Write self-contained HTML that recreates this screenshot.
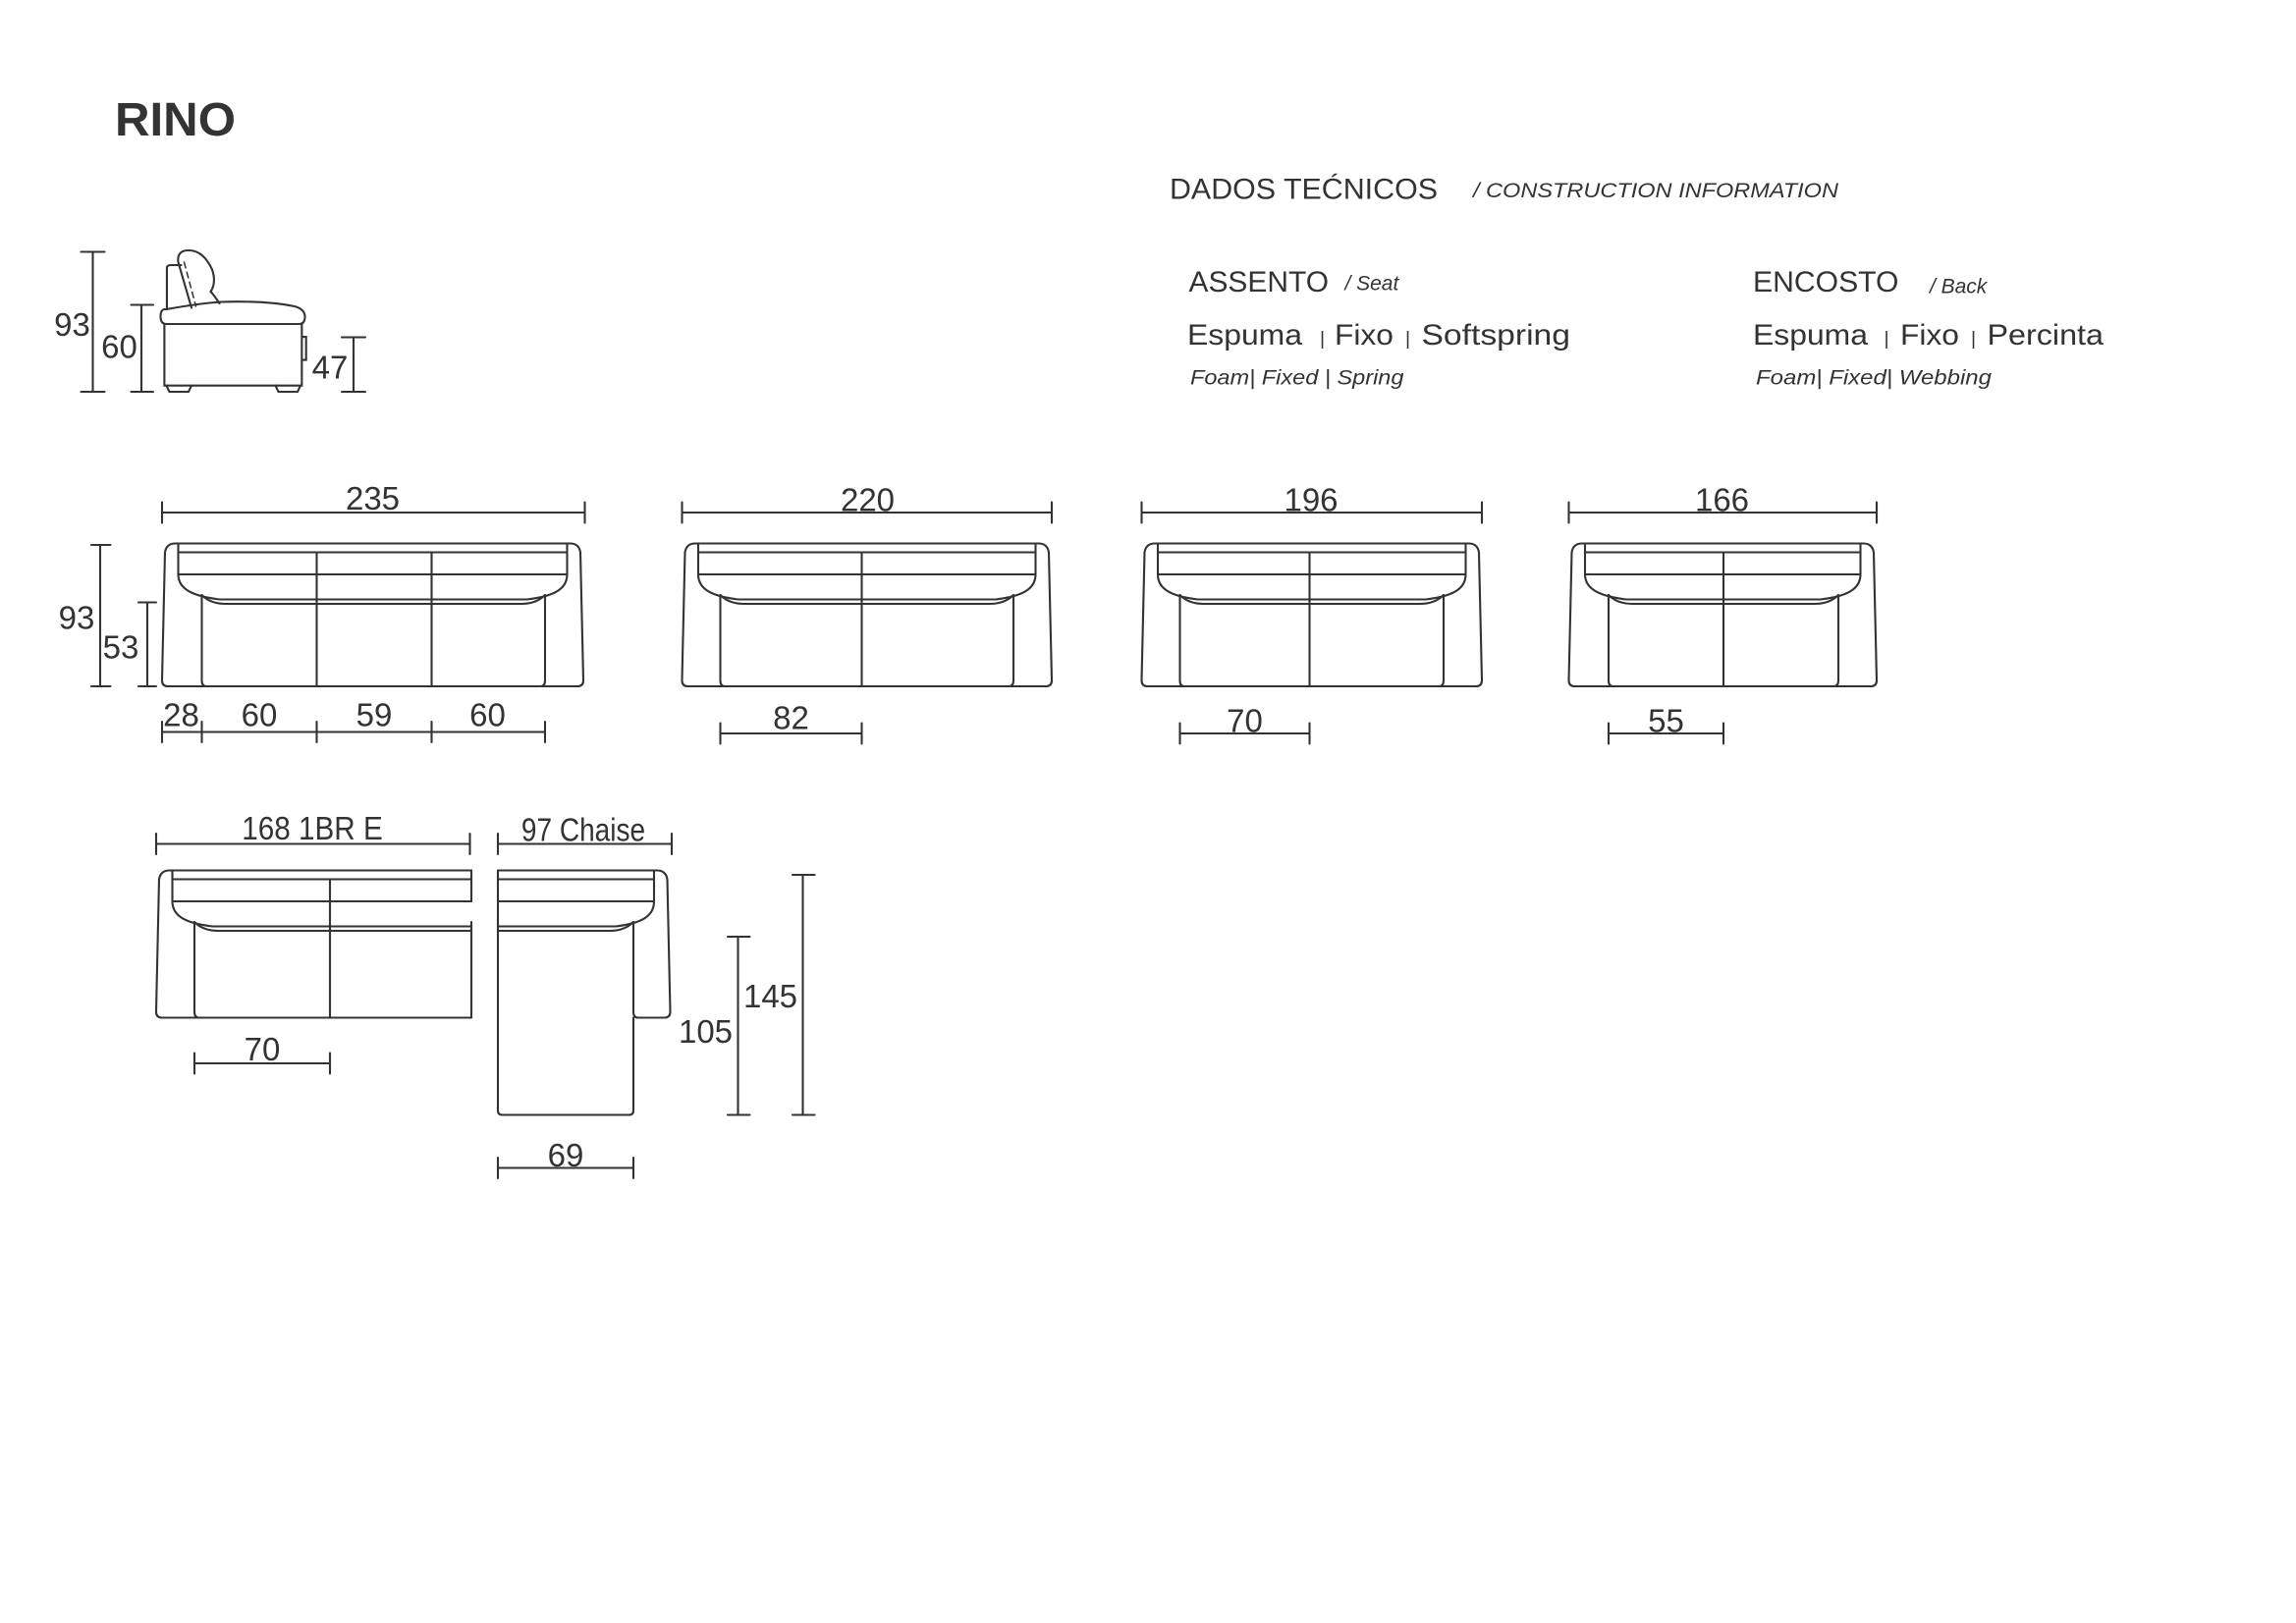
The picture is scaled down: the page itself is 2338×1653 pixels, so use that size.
<!DOCTYPE html>
<html><head><meta charset="utf-8"><style>
html,body{margin:0;padding:0;background:#fff;}
svg{display:block;}
text{font-family:"Liberation Sans",sans-serif;fill:#333;}
</style></head><body>
<svg width="2338" height="1653" viewBox="0 0 1558.67 1102" xmlns="http://www.w3.org/2000/svg">
<rect width="1558.67" height="1102" fill="#fff"/>
<text x="78" y="92" font-size="32" font-weight="bold" fill="#333" textLength="82" lengthAdjust="spacingAndGlyphs">RINO</text>

<text x="794" y="135" font-size="20" textLength="182" lengthAdjust="spacingAndGlyphs">DADOS TEĆNICOS</text>
<text x="1000" y="134" font-size="14" font-style="italic" textLength="248" lengthAdjust="spacingAndGlyphs">/ CONSTRUCTION INFORMATION</text>
<text x="807" y="198" font-size="20" textLength="95" lengthAdjust="spacingAndGlyphs">ASSENTO</text>
<text x="913" y="197" font-size="14" font-style="italic">/ Seat</text>
<text x="806" y="234" font-size="20" textLength="78" lengthAdjust="spacingAndGlyphs">Espuma</text>
<text x="896" y="234" font-size="13">|</text>
<text x="906" y="234" font-size="20" textLength="40" lengthAdjust="spacingAndGlyphs">Fixo</text>
<text x="954" y="234" font-size="13">|</text>
<text x="965" y="234" font-size="20" textLength="101" lengthAdjust="spacingAndGlyphs">Softspring</text>
<text x="808" y="261" font-size="14" font-style="italic" textLength="145" lengthAdjust="spacingAndGlyphs">Foam| Fixed | Spring</text>
<text x="1190" y="198" font-size="20" textLength="99" lengthAdjust="spacingAndGlyphs">ENCOSTO</text>
<text x="1310" y="199" font-size="14" font-style="italic">/ Back</text>
<text x="1190" y="234" font-size="20" textLength="78" lengthAdjust="spacingAndGlyphs">Espuma</text>
<text x="1279" y="234" font-size="13">|</text>
<text x="1290" y="234" font-size="20" textLength="40" lengthAdjust="spacingAndGlyphs">Fixo</text>
<text x="1338" y="234" font-size="13">|</text>
<text x="1349" y="234" font-size="20" textLength="79" lengthAdjust="spacingAndGlyphs">Percinta</text>
<text x="1192" y="261" font-size="14" font-style="italic" textLength="160" lengthAdjust="spacingAndGlyphs">Foam| Fixed| Webbing</text>

<g stroke="#333" stroke-width="1.4" fill="none" stroke-linecap="round">
<path d="M63,171V266M55,171H71M55,266H71"/>
<path d="M96,207V266M89,207H104M89,266H104"/>
<path d="M240,229V266M232,229H248M232,266H248"/>
<path d="M111.6,220V261.8H204.9V220"/>
<path d="M112,210Q109,210 109,215Q109,220 113,220H203Q207,220 207,215Q207,210 200,208Q180,204 150,205Q135,206 113,210Z"/>
<path d="M113.3,210V182Q113.3,180 116,180H123"/>
<path d="M130,209L121,178Q120,170 128,170Q138,170 144,183Q147,192 143,198Q145,200 149,206"/>
<path d="M125,178L133,208" stroke-dasharray="4 3" stroke-width="1"/>
<path d="M113,261.8L115,266H128L130,261.8M187,261.8L189,266H202L204,261.8"/>
<path d="M205,228.7H207.8V244.4H205"/>

<path d="M114,466Q110,466 110,462L112,375Q113,369 119,369H387Q393,369 394,375L396,462Q396,466 392,466Z"/>
<path d="M121,369V390M385,369V390M121,375H385M121,390H385"/>
<path d="M121,390C121,401 133,405 149,407H358C374,405 385,401 385,390"/>
<path d="M137,404Q143,410 153,410H354Q364,410 370,404"/>
<path d="M137,404V462Q137,466 140,466M370,404V462Q370,466 367,466"/>
<path d="M215,375V466M293,375V466"/>
<path d="M467,466Q463,466 463,462L465,375Q466,369 472,369H705Q711,369 712,375L714,462Q714,466 710,466Z"/>
<path d="M474,369V390M703,369V390M474,375H703M474,390H703"/>
<path d="M474,390C474,401 485,405 501,407H676C692,405 703,401 703,390"/>
<path d="M489,404Q495,410 505,410H672Q682,410 688,404"/>
<path d="M489,404V462Q489,466 492,466M688,404V462Q688,466 685,466"/>
<path d="M585,375V466"/>
<path d="M779,466Q775,466 775,462L777,375Q778,369 784,369H997Q1003,369 1004,375L1006,462Q1006,466 1002,466Z"/>
<path d="M786,369V390M995,369V390M786,375H995M786,390H995"/>
<path d="M786,390C786,401 797,405 813,407H968C984,405 995,401 995,390"/>
<path d="M801,404Q807,410 817,410H964Q974,410 980,404"/>
<path d="M801,404V462Q801,466 804,466M980,404V462Q980,466 977,466"/>
<path d="M889,375V466"/>
<path d="M1069,466Q1065,466 1065,462L1067,375Q1068,369 1074,369H1265Q1271,369 1272,375L1274,462Q1274,466 1270,466Z"/>
<path d="M1076,369V390M1263,369V390M1076,375H1263M1076,390H1263"/>
<path d="M1076,390C1076,401 1088,405 1104,407H1236C1252,405 1263,401 1263,390"/>
<path d="M1092,404Q1098,410 1108,410H1232Q1242,410 1248,404"/>
<path d="M1092,404V462Q1092,466 1095,466M1248,404V462Q1248,466 1245,466"/>
<path d="M1170,375V466"/>

<path d="M320,691H110Q106,691 106,687L108,597Q109,591 115,591H320V612M320,626V691"/>
<path d="M117,591V612M117,597H320M117,612H320"/>
<path d="M117,612C117,623 128,627 144,629H320"/>
<path d="M132,626Q138,632 148,632H320"/>
<path d="M132,626V687Q132,691 135,691"/>
<path d="M224,597V691"/>
<path d="M338,591H446Q452,591 453,597L455,687Q455,691 451,691H433Q430,691 430,687V626"/>
<path d="M338,591V754Q338,757 341,757H427Q430,757 430,754V691"/>
<path d="M444,591V612M338,597H444M338,612H444"/>
<path d="M444,612C444,623 434,627 418,629H338"/>
<path d="M430,626Q424,632 414,632H338"/>

<path d="M110,348H397M110,341V355M397,341V355"/>
<path d="M463,348H714M463,341V355M714,341V355"/>
<path d="M775,348H1006M775,341V355M1006,341V355"/>
<path d="M1065,348H1274M1065,341V355M1274,341V355"/>
<path d="M68,370V466M62,370H75M62,466H75"/>
<path d="M100,409V466M94,409H106M94,466H106"/>
<path d="M110,497H370M110,490V504M137,490V504M215,490V504M293,490V504M370,490V504"/>
<path d="M489,498H585M489,491V505M585,491V505"/>
<path d="M801,498H889M801,491V505M889,491V505"/>
<path d="M1092,498H1170M1092,491V505M1170,491V505"/>
<path d="M106,573H319M106,566V580M319,566V580"/>
<path d="M338,573H456M338,566V580M456,566V580"/>
<path d="M132,722H224M132,715V729M224,715V729"/>
<path d="M338,793H430M338,786V800M430,786V800"/>
<path d="M501,636V757M494,636H509M494,757H509"/>
<path d="M545,594V757M538,594H553M538,757H553"/>
</g>

<g font-size="22" text-anchor="middle">
<text x="49" y="228">93</text>
<text x="81" y="243">60</text>
<text x="224" y="257">47</text>
<text x="253" y="346">235</text>
<text x="589" y="347">220</text>
<text x="890" y="347">196</text>
<text x="1169" y="347">166</text>
<text x="52" y="427">93</text>
<text x="82" y="447">53</text>
<text x="123" y="493">28</text>
<text x="176" y="493">60</text>
<text x="254" y="493">59</text>
<text x="331" y="493">60</text>
<text x="537" y="495">82</text>
<text x="845" y="497">70</text>
<text x="1131" y="497">55</text>
<text x="212" y="570" transform="translate(212 0) scale(0.9 1) translate(-212 0)">168 1BR E</text>
<text x="396" y="571" transform="translate(396 0) scale(0.85 1) translate(-396 0)">97 Chaise</text>
<text x="178" y="720">70</text>
<text x="384" y="792">69</text>
<text x="479" y="708">105</text>
<text x="523" y="684">145</text>
</g>
</svg>
</body></html>
